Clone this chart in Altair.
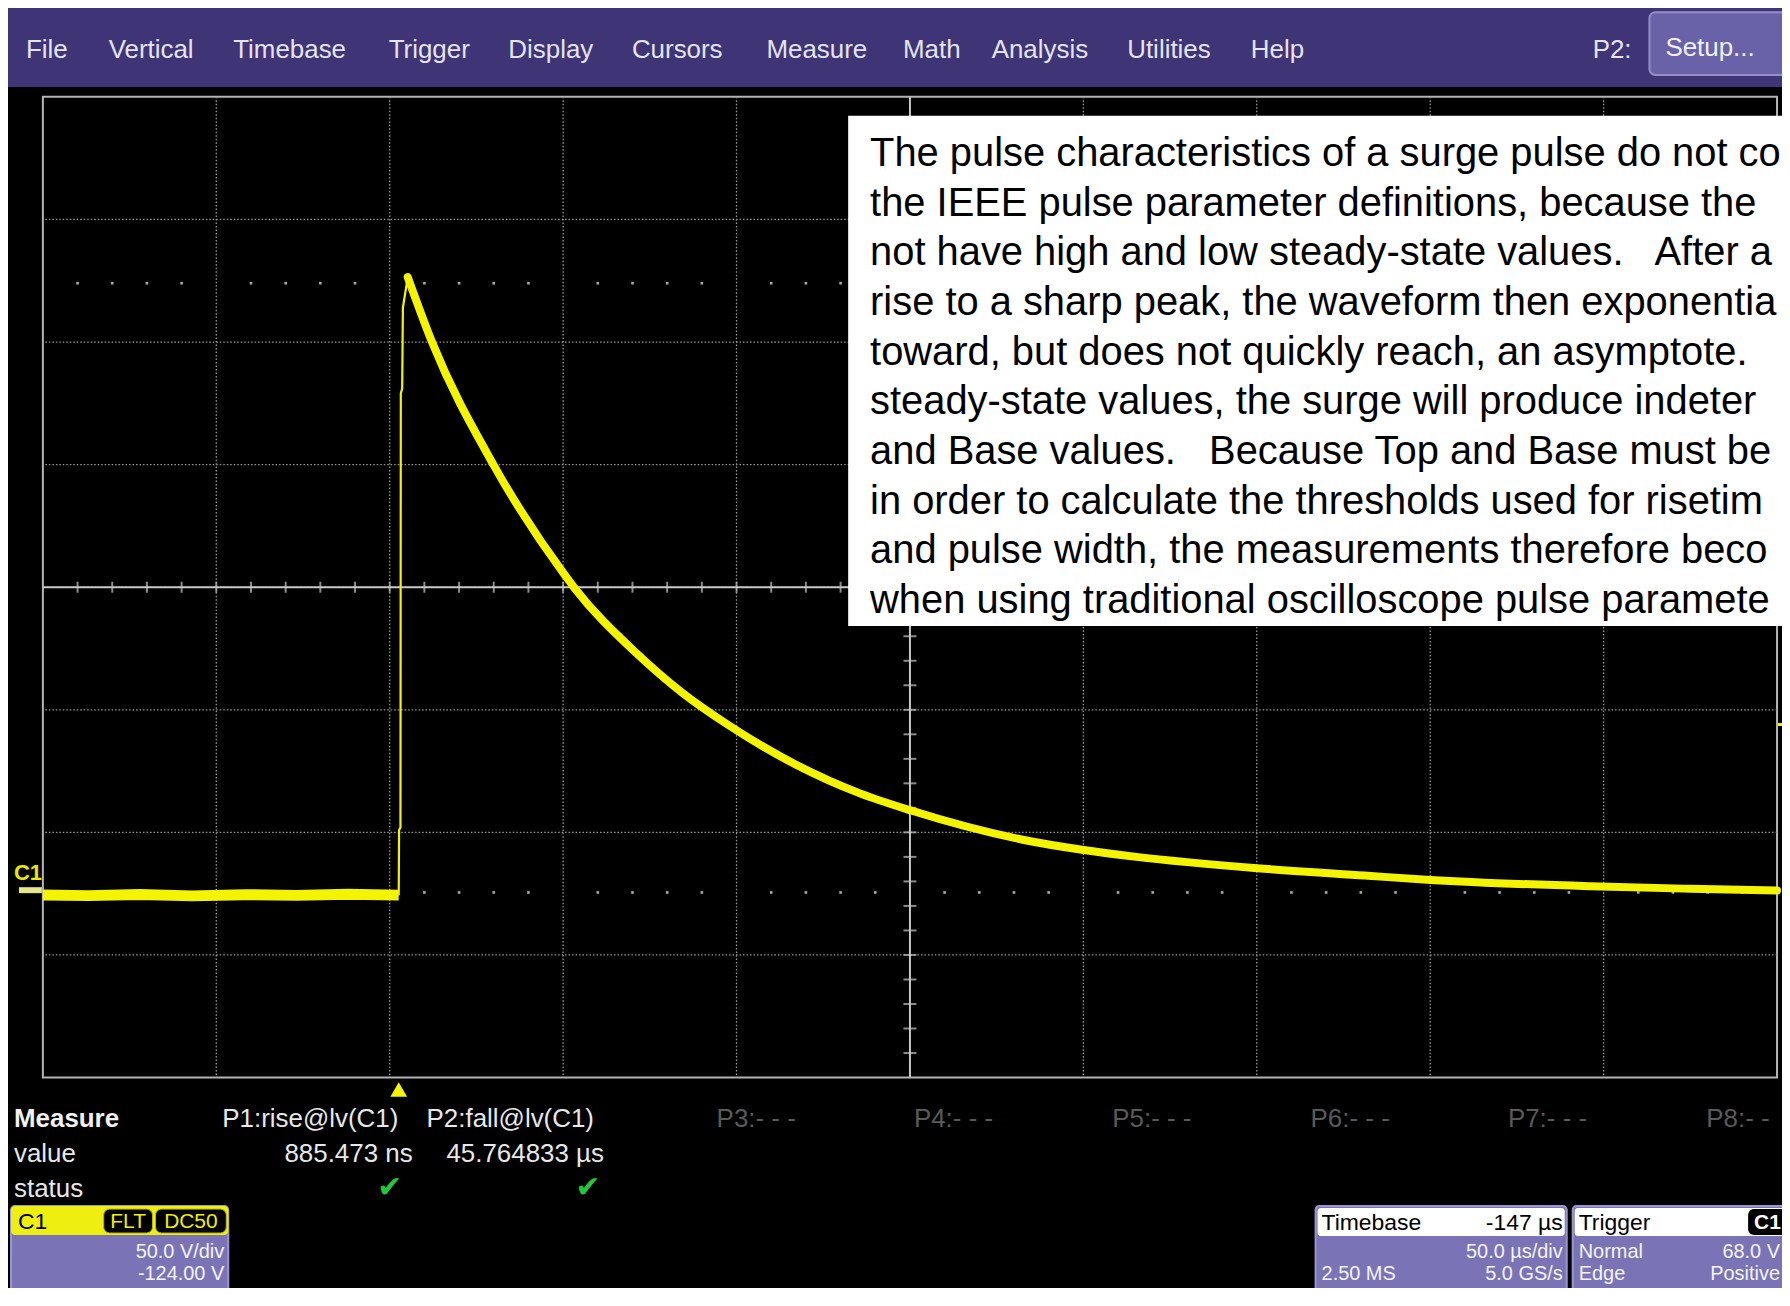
import altair as alt
import pandas as pd

# ---------------- scope settings ----------------
TIME_DIV_US = 50.0      # 50.0 us/div
DELAY_US = -147.0       # Timebase -147 us
VOLT_DIV = 50.0         # 50.0 V/div
OFFSET_V = -124.0       # -124.00 V
N_HDIV, N_VDIV = 10, 8
TRIG_LEVEL_V = 68.0
TOP_LEVEL_V = 248.0
BASE_LEVEL_V = -0.5

# ---------------- waveform samples ----------------
base_t = [-103, -90, -75, -60, -45, -30, -15, -0.4]
base_v = [-1.5, -1.8, -1.3, -1.9, -1.4, -1.7, -1.2, -1.6]

rise_t = [-0.4, -0.3, 0.1, 0.2, 0.6, 0.8, 2.2]
rise_v = [-1.6, 25, 26, 203, 205, 238, 250.5]

decay_t = [2.2, 9.2, 26.9, 47.2, 50.1, 68.2, 81.3, 94.4, 114.3, 132.4, 147.1,
           179.5, 197.1, 212.3, 247.1, 278.0, 297.1, 343.3, 372.0, 397.0]
decay_v = [250.5, 224, 174, 129.5, 124, 97, 81, 68, 51.5, 40, 33,
           21, 16.8, 14, 9.4, 6.4, 4.6, 2.0, 1.0, 0.3]

# ---------------- screen texts ----------------
MENU_ITEMS = ["File", "Vertical", "Timebase", "Trigger", "Display", "Cursors",
              "Measure", "Math", "Analysis", "Utilities", "Help"]
MEAS_SLOTS = ["P1:rise@lv(C1)", "P2:fall@lv(C1)", "P3:- - -", "P4:- - -",
              "P5:- - -", "P6:- - -", "P7:- - -", "P8:- - -"]
MEAS_VALUES = ["885.473 ns", "45.764833 µs"]
SP3 = "\u00a0\u00a0 "
NOTE_LINES = [
    "The pulse characteristics of a surge pulse do not co",
    "the IEEE pulse parameter definitions, because the",
    "not have high and low steady-state values." + SP3 + "After a",
    "rise to a sharp peak, the waveform then exponentia",
    "toward, but does not quickly reach, an asymptote.",
    "steady-state values, the surge will produce indeterm",
    "and Base values." + SP3 + "Because Top and Base must be",
    "in order to calculate the thresholds used for risetim",
    "and pulse width, the measurements therefore beco",
    "when using traditional oscilloscope pulse paramete",
]

# ---------------- derived axis structure ----------------
t_center = -DELAY_US
t_min = t_center - N_HDIV / 2 * TIME_DIV_US
t_max = t_center + N_HDIV / 2 * TIME_DIV_US
v_center = -OFFSET_V
v_min = v_center - N_VDIV / 2 * VOLT_DIV
v_max = v_center + N_VDIV / 2 * VOLT_DIV

major_t = [t_min + k * TIME_DIV_US for k in range(1, N_HDIV)]
major_v = [v_min + k * VOLT_DIV for k in range(1, N_VDIV)]
minor_t = [t_min + k * TIME_DIV_US / 5 for k in range(1, N_HDIV * 5)]
minor_v = [v_min + k * VOLT_DIV / 5 for k in range(1, N_VDIV * 5)]
dot_t = [t for i, t in enumerate(minor_t) if (i + 1) % 5 != 0]

# ---------------- styles / layout ----------------
W, H = 1740, 984              # plot area (10 x 8 divisions)
OX, OY = 43, 95               # plot area position on the page
RIGHT_EDGE = 1787             # visible right edge on the page
PAD = {"left": OX - 8, "top": OY - 8, "right": 1780 - (OX - 8) - W,
       "bottom": 1280 - (OY - 8) - H}
YEL = "#f4f400"
GRID = "#9a9a9a"
PURPLE = "#3e3476"
LAV = "#7a73b6"
FONT = "Liberation Sans"

xs = alt.Scale(domain=[t_min, t_max], nice=False, zero=False)
ys = alt.Scale(domain=[v_min, v_max], nice=False, zero=False)
X = lambda: alt.X("t:Q", scale=xs, axis=None)
Y = lambda: alt.Y("v:Q", scale=ys, axis=None)

ONE = pd.DataFrame({"k": [0]})
layers = []


def txt(label, px, py, size=26, color="#e4e4ec", align="left",
        weight="normal", font=FONT, clip_right=False):
    kw = {}
    if clip_right:
        kw = dict(limit=RIGHT_EDGE - px, ellipsis="\u200b")
    return alt.Chart(ONE).mark_text(
        text=label, align=align, baseline="middle", fontSize=size,
        color=color, fontWeight=weight, font=font, **kw
    ).encode(x=alt.value(px - OX), y=alt.value(py - OY))


def box(px0, py0, px1, py1, fill, stroke=None, radius=0, sw=1):
    kw = dict(fill=fill, cornerRadius=radius)
    if stroke:
        kw.update(stroke=stroke, strokeWidth=sw)
    return alt.Chart(ONE).mark_rect(**kw).encode(
        x=alt.value(px0 - OX), x2=alt.value(px1 - OX),
        y=alt.value(py0 - OY), y2=alt.value(py1 - OY))


# grid
layers.append(alt.Chart(pd.DataFrame({"t": major_t})).mark_rule(
    color=GRID, strokeWidth=1.3, strokeDash=[1.5, 2]).encode(x=X()))
layers.append(alt.Chart(pd.DataFrame({"v": major_v})).mark_rule(
    color=GRID, strokeWidth=1.3, strokeDash=[1.5, 2]).encode(y=Y()))
# center cross + minor ticks
layers.append(alt.Chart(pd.DataFrame({"t": [t_center]})).mark_rule(
    color="#c6c6c6", strokeWidth=2).encode(x=X()))
layers.append(alt.Chart(pd.DataFrame({"v": [v_center]})).mark_rule(
    color="#c6c6c6", strokeWidth=2).encode(y=Y()))
layers.append(alt.Chart(pd.DataFrame({"t": minor_t, "v": v_center})).mark_tick(
    orient="vertical", color="#c6c6c6", size=11, thickness=2).encode(x=X(), y=Y()))
layers.append(alt.Chart(pd.DataFrame({"t": t_center, "v": minor_v})).mark_tick(
    orient="horizontal", color="#c6c6c6", size=13, thickness=2).encode(x=X(), y=Y()))
# level dot rows
for lvl in (TOP_LEVEL_V, BASE_LEVEL_V):
    layers.append(alt.Chart(pd.DataFrame({"t": dot_t, "v": lvl})).mark_square(
        color="#a8a8a8", size=7, opacity=1).encode(x=X(), y=Y()))

# waveform
df_base = pd.DataFrame({"t": base_t, "v": base_v, "i": range(len(base_t))})
df_rise = pd.DataFrame({"t": rise_t, "v": rise_v, "i": range(len(rise_t))})
df_decay = pd.DataFrame({"t": decay_t, "v": decay_v, "i": range(len(decay_t))})
layers.append(alt.Chart(df_rise).mark_line(color=YEL, strokeWidth=2.2).encode(
    x=X(), y=Y(), order="i:Q"))
layers.append(alt.Chart(df_base).mark_line(color=YEL, strokeWidth=11).encode(
    x=X(), y=Y(), order="i:Q"))
layers.append(alt.Chart(df_decay).mark_line(
    color=YEL, strokeWidth=8, interpolate="monotone", strokeCap="round",
    strokeJoin="round").encode(x=X(), y=Y(), order="i:Q"))

# trigger markers
layers.append(alt.Chart(pd.DataFrame({"t": [rise_t[0]]})).mark_point(
    shape="triangle-up", filled=True, color=YEL, size=280, opacity=1).encode(
    x=X(), y=alt.value(1091 - OY)))
layers.append(alt.Chart(pd.DataFrame({"v": [TRIG_LEVEL_V]})).mark_rule(
    color=YEL, strokeWidth=3).encode(
    y=Y(), x=alt.value(W + 1), x2=alt.value(W + 9)))
# channel ground marker
layers.append(box(19, 888, 42, 894, "#e6e68c"))
layers.append(txt("C1", 14, 874, size=22, color="#e8e800", weight="bold"))

# annotation box
layers.append(box(851, 114, 1800, 626, "white"))
for i, line in enumerate(NOTE_LINES):
    layers.append(txt(line, 873, 152.5 + 49.8 * i, size=40, color="black",
                      clip_right=True))

# menu bar
layers.append(box(0, 0, 1800, 85, PURPLE))
MENU_X = [26, 109, 234, 390, 510, 634, 769, 906, 995, 1131, 1255]
for label, px in zip(MENU_ITEMS, MENU_X):
    layers.append(txt(label, px, 48))
layers.append(txt("P2:", 1598, 48))
layers.append(box(1655, 10, 1800, 73, "#6a62a8", stroke="#948ec8", radius=6, sw=2))
layers.append(txt("Setup...", 1671, 46, color="#f0f0f6"))

# measurement table
layers.append(txt("Measure", 14, 1121, weight="bold", color="#f2f2f2"))
layers.append(txt("value", 14, 1156, color="#e8e8e8"))
layers.append(txt("status", 14, 1191, color="#e8e8e8"))
SLOT_X = [223, 428, 719, 917, 1116, 1315, 1513, 1712]
for j, (label, px) in enumerate(zip(MEAS_SLOTS, SLOT_X)):
    layers.append(txt(label, px, 1121, color="#e8e8e8" if j < 2 else "#5a5a5a",
                      clip_right=True))
for label, px in zip(MEAS_VALUES, [414, 606]):
    layers.append(txt(label, px, 1156, align="right", color="#e8e8e8"))
for px in (391, 590):
    layers.append(txt("✔", px, 1190, size=30, color="#22c83a", align="center",
                      font="DejaVu Sans"))

# bottom info boxes (rows slightly tightened so the lowest row stays on screen)
BT, HB, R2, R3 = 1208, 1237, 1254, 1276
RS = 20
HC = (BT + HB) / 2 + 1
layers.append(box(11, BT, 229, 1320, LAV, stroke="#9c96d0", radius=4, sw=2))
layers.append(box(11, BT, 229, HB, "#eeee10", radius=4))
layers.append(txt("C1", 18, HC, size=23, color="black"))
layers.append(box(104, BT + 3, 153, HB - 2, "black", stroke="#b8b800", radius=6))
layers.append(box(156, BT + 3, 227, HB - 2, "black", stroke="#b8b800", radius=6))
layers.append(txt("FLT", 128.5, HC, size=21, color="#f0f000", align="center"))
layers.append(txt("DC50", 191.5, HC, size=21, color="#f0f000", align="center"))
layers.append(txt("50.0 V/div", 225, R2, size=RS, color="#f4f4f4", align="right"))
layers.append(txt("-124.00 V", 225, R3, size=RS, color="#f4f4f4", align="right"))

layers.append(box(1320, BT, 1572, 1320, LAV, stroke="#9c96d0", radius=4, sw=2))
layers.append(box(1322, BT + 2, 1570, HB + 1, "white", radius=3))
layers.append(txt("Timebase", 1326, HC + 1, size=23, color="black"))
layers.append(txt("-147 µs", 1568, HC + 1, size=23, color="black", align="right"))
layers.append(txt("50.0 µs/div", 1568, R2, size=RS, color="#f4f4f4", align="right"))
layers.append(txt("2.50 MS", 1326, R3, size=RS, color="#f4f4f4"))
layers.append(txt("5.0 GS/s", 1568, R3, size=RS, color="#f4f4f4", align="right"))

layers.append(box(1578, BT, 1810, 1320, LAV, stroke="#9c96d0", radius=4, sw=2))
layers.append(box(1580, BT + 2, 1810, HB + 1, "white", radius=3))
layers.append(txt("Trigger", 1584, HC + 1, size=23, color="black"))
layers.append(box(1754, BT + 3, 1810, HB, "black", radius=6))
layers.append(txt("C1", 1760, HC + 1, size=21, color="white", weight="bold"))
layers.append(txt("Normal", 1584, R2, size=RS, color="#f4f4f4"))
layers.append(txt("68.0 V", 1786, R2, size=RS, color="#f4f4f4", align="right"))
layers.append(txt("Edge", 1584, R3, size=RS, color="#f4f4f4"))
layers.append(txt("Positive", 1786, R3, size=RS, color="#f4f4f4", align="right"))

chart = alt.layer(*layers).properties(
    width=W, height=H,
    autosize=alt.AutoSizeParams(type="none"),
    padding=PAD,
    background="black",
).configure_view(stroke="#b4b4b4", strokeWidth=2)

chart.save("out.html", embed_options={"renderer": "svg", "actions": False})
